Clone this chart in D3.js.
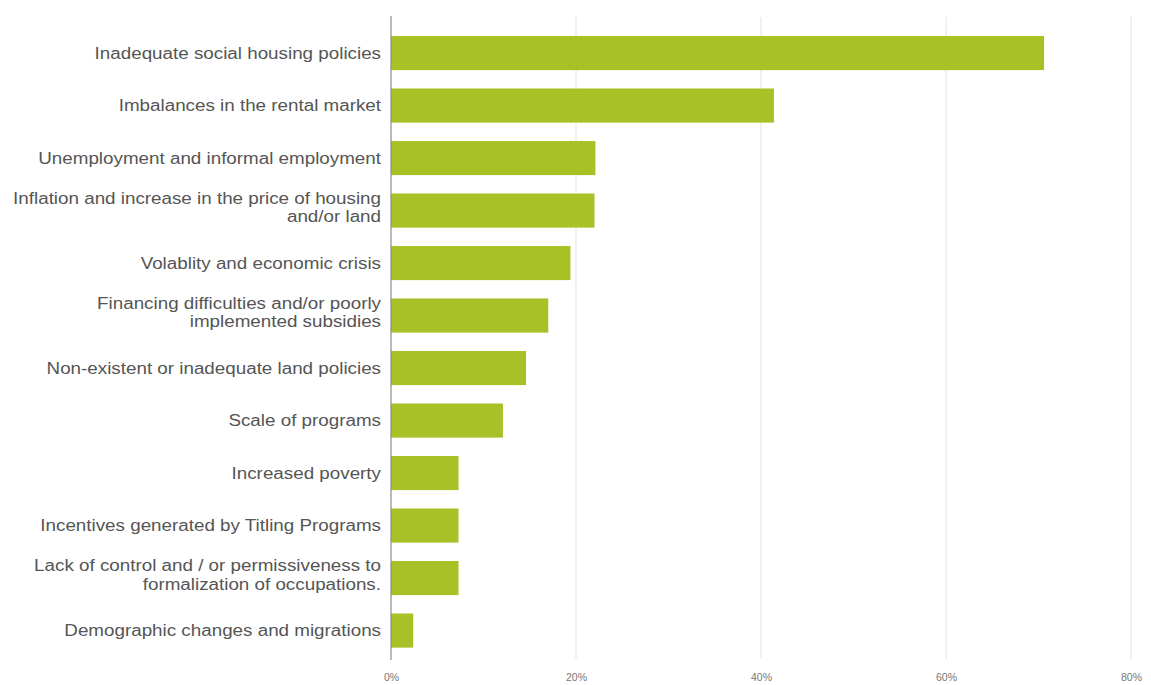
<!DOCTYPE html>
<html>
<head>
<meta charset="utf-8">
<script src="https://cdn.jsdelivr.net/npm/d3@7"></script>
<style>
  html, body { margin: 0; padding: 0; background: #fff; }
  svg { display: block; }
</style>
</head>
<body>
<svg id="chart" width="1151" height="685"></svg>
<script>
// Causes reported (a "\n" marks a line break in the label)
const categories = [
  "Inadequate social housing policies",
  "Imbalances in the rental market",
  "Unemployment and informal employment",
  "Inflation and increase in the price of housing\nand/or land",
  "Volablity and economic crisis",
  "Financing difficulties and/or poorly\nimplemented subsidies",
  "Non-existent or inadequate land policies",
  "Scale of programs",
  "Increased poverty",
  "Incentives generated by Titling Programs",
  "Lack of control and / or permissiveness to\nformalization of occupations.",
  "Demographic changes and migrations"
];

// Share of responses, in percent
const values = [70.6, 41.4, 22.1, 22.0, 19.4, 17.0, 14.6, 12.1, 7.3, 7.3, 7.3, 2.4];

// Axis ticks (percent)
const tickValues = [0, 20, 40, 60, 80];

const svg = d3.select("#chart");
const plotLeft = 391, plotRight = 1131, plotTop = 26.8, plotBottom = 656.8;

const x = d3.scaleLinear().domain([0, 80]).range([plotLeft, plotRight]);
const y = d3.scaleBand()
  .domain(categories)
  .range([plotTop, plotBottom])
  .paddingInner(0.35)
  .paddingOuter(0.175);

// Vertical gridlines
svg.append("g")
  .selectAll("line")
  .data(tickValues.filter(t => t > 0))
  .join("line")
  .attr("x1", d => x(d)).attr("x2", d => x(d))
  .attr("y1", 17).attr("y2", 659)
  .attr("stroke", "#e2e2e2")
  .attr("stroke-width", 1);

// Bars
svg.append("g")
  .selectAll("rect")
  .data(categories.map((c, i) => ({ c, v: values[i] })))
  .join("rect")
  .attr("x", x(0))
  .attr("y", d => y(d.c))
  .attr("width", d => x(d.v) - x(0))
  .attr("height", y.bandwidth())
  .attr("fill", "#a8c126");

// Baseline at 0%
svg.append("line")
  .attr("x1", x(0)).attr("x2", x(0))
  .attr("y1", 16).attr("y2", 660)
  .attr("stroke", "#8c8c8c")
  .attr("stroke-width", 1.2);

// Category labels: glyphs are drawn slightly wide
const lineH = 18.5;
const widen = 1.175;
const labelX = 381;
const labels = svg.append("g")
  .attr("font-family", "'Liberation Sans', Arial, sans-serif")
  .attr("font-size", 16)
  .attr("fill", "#555")
  .attr("text-anchor", "end");

categories.forEach(c => {
  const lines = c.split("\n");
  const cy = y(c) + y.bandwidth() / 2;
  const shift = lines.length > 1 ? 3 : 0;
  const y0 = cy - (lines.length - 1) * lineH / 2 - shift;
  lines.forEach((ln, k) => {
    const t = labels.append("text")
      .attr("x", labelX)
      .attr("y", y0 + k * lineH)
      .attr("dy", "0.35em")
      .text(ln);
    const w = t.node().getComputedTextLength();
    t.attr("textLength", w * widen)
     .attr("lengthAdjust", "spacingAndGlyphs");
  });
});

// X axis tick labels
const xAxis = d3.axisBottom(x)
  .tickValues(tickValues)
  .tickFormat(d => d + "%")
  .tickSize(0)
  .tickPadding(0);

const gx = svg.append("g")
  .attr("transform", "translate(0, 674)")
  .call(xAxis);
gx.select(".domain").remove();
gx.selectAll("text")
  .attr("font-family", "'Liberation Sans', Arial, sans-serif")
  .attr("font-size", 10.5)
  .attr("fill", "#777");
</script>
</body>
</html>
